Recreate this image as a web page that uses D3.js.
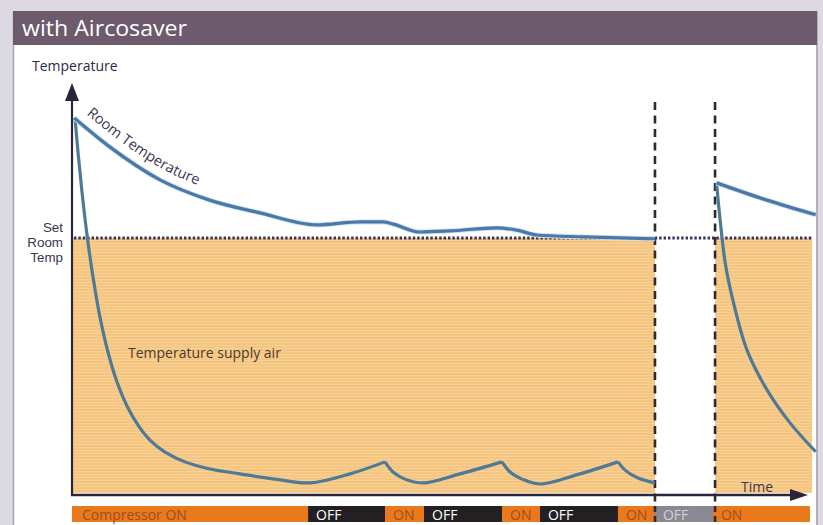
<!DOCTYPE html>
<html><head><meta charset="utf-8">
<script src="https://cdn.jsdelivr.net/npm/d3@7"></script>
<style>body{margin:0;background:#dcd9e2;} svg{display:block;font-family:"Open Sans",sans-serif;}</style>
</head><body><svg id="c" width="823" height="525"></svg>
<script>
// ---- data (time units 0-100, relative temperature 0-100) ----
const title = "with Aircosaver";
const yLabel = "Temperature";
const xLabel = "Time";
const setLabel = ["Set", "Room", "Temp"];
const setTemp = 68;
const gapStart = 78.78, gapEnd = 86.9;
const roomBefore = [[0.3,100],[5.1,92.3],[11.9,83.5],[18.6,78.1],[25.4,74.7],[33.1,71.5],[38.9,72.3],[42.0,72.3],[43.4,71.7],[47.0,69.6],[51.1,69.9],[57.4,70.7],[60.1,70.1],[62.8,68.8],[69.1,68.3],[78.8,67.8]];
const roomAfter = [[87.1,82.7],[93.9,78.1],[100.5,74.2]];
const supplyCycle1 = [[0.41,100],[0.81,90.9],[1.35,80.3],[2.03,68.8],[2.84,57.6],[3.78,46.9],[4.86,37.6],[6.08,29.6],[7.43,23.2],[8.92,18.1],[10.54,14.1],[12.57,10.9],[15.27,8.3],[18.65,6.4],[22.7,5.1],[27.43,3.7],[32.16,2.7],[37.57,5.1],[42.3,8.3]];
const supplyCycle2 = [[42.3,8.3],[43.38,5.6],[45.0,3.7],[47.43,2.7],[52.43,5.1],[58.11,8.3]];
const supplyCycle3 = [[58.11,8.3],[59.19,5.6],[60.81,3.7],[63.24,2.4],[68.65,5.1],[73.78,8.3]];
const supplyCycle4 = [[73.78,8.3],[74.86,5.9],[76.49,4.0],[78.78,2.7]];
const supplyAfter = [[87.1,82.7],[87.6,72.5],[88.3,61.0],[89.3,51.5],[91.22,38.1],[93.92,27.5],[97.03,18.7],[100.5,11.0]];
const compStates = ["ON","OFF","ON","OFF","ON","OFF","ON","IDLE","ON"];
const compLabels = ["Compressor ON","OFF","ON","OFF","ON","OFF","ON","OFF","ON"];
const compStarts = [0,31.9,42.3,47.57,58.11,63.24,73.78,78.78,86.62];
const compEnds   = [31.9,42.3,47.57,58.11,63.24,73.78,78.78,86.62,99.73];

// ---- drawing ----
const svg = d3.select("#c");
const x = d3.scaleLinear([0,100],[72,812]);
const y = d3.scaleLinear([0,100],[493,118]);

const defs = svg.append("defs");
const pat = defs.append("pattern").attr("id","stripe").attr("patternUnits","userSpaceOnUse").attr("width",4).attr("height",3);
pat.append("rect").attr("width",4).attr("height",3).attr("fill","#f5c47f");
pat.append("rect").attr("y",0).attr("width",4).attr("height",1).attr("fill","#f8d197");
pat.append("rect").attr("x",0).attr("width",1).attr("height",3).attr("fill","#f7cb8c").attr("opacity",0.6);

// frame
svg.append("rect").attr("x",0).attr("y",0).attr("width",823).attr("height",525).attr("fill","#dcd9e2");
svg.append("rect").attr("x",13).attr("y",44).attr("width",804).attr("height",481).attr("fill","#ffffff");
svg.append("line").attr("x1",13.5).attr("x2",13.5).attr("y1",11).attr("y2",525).attr("stroke","#a9a5b2").attr("stroke-width",1.5);
svg.append("line").attr("x1",817).attr("x2",817).attr("y1",11).attr("y2",525).attr("stroke","#b3afbb").attr("stroke-width",2);
svg.append("rect").attr("x",13).attr("y",11).attr("width",804).attr("height",34).attr("fill","#6d5a6d");
svg.append("text").attr("x",22).attr("y",36).attr("fill","#ffffff").attr("font-size",21.5)
  .attr("textLength",165).attr("lengthAdjust","spacingAndGlyphs").text(title);

// orange fill areas
[[0,gapStart],[gapEnd,100]].forEach(([a,b])=>{
  svg.append("rect").attr("x",x(a)).attr("y",y(setTemp)).attr("width",x(b)-x(a)).attr("height",y(0)-y(setTemp)).attr("fill","url(#stripe)");
});

// set temp dotted line
svg.append("line").attr("x1",x(0)+2).attr("x2",x(100)).attr("y1",y(setTemp)).attr("y2",y(setTemp))
  .attr("stroke","#34325e").attr("stroke-width",3).attr("stroke-dasharray","2.4,2");

// dashed verticals
[gapStart,gapEnd].forEach(t=>{
  svg.append("line").attr("x1",x(t)).attr("x2",x(t)).attr("y1",102).attr("y2",522)
    .attr("stroke","#2b2a2e").attr("stroke-width",2.6).attr("stroke-dasharray","8,5.5");
});

// curves
const line = d3.line().x(d=>x(d[0])).y(d=>y(d[1])).curve(d3.curveCatmullRom.alpha(0.5));
const roomLine = d3.line().x(d=>x(d[0])).y(d=>y(d[1])).curve(d3.curveMonotoneX);
[supplyCycle1,supplyCycle2,supplyCycle3,supplyCycle4,supplyAfter].forEach(s=>{
  svg.append("path").attr("d",line(s)).attr("fill","none").attr("stroke","#4e7a96").attr("stroke-width",3.2).attr("stroke-linejoin","miter");
});
[roomBefore,roomAfter].forEach(s=>{
  svg.append("path").attr("d",roomLine(s)).attr("fill","none").attr("stroke","#cfe0f0").attr("stroke-width",5);
  svg.append("path").attr("d",roomLine(s)).attr("fill","none").attr("stroke","#4a78a8").attr("stroke-width",3.2);
});

// text along room curve
const offsetLine = d3.line().x(d=>x(d[0])+6).y(d=>y(d[1])-9).curve(d3.curveMonotoneX);
defs.append("path").attr("id","roomPath").attr("d",offsetLine(roomBefore.slice(0,8)));
svg.append("text").attr("font-size",14.5).attr("fill","#3a3654")
  .append("textPath").attr("href","#roomPath").attr("startOffset",8).text("Room Temperature");

// axes
svg.append("line").attr("x1",72).attr("x2",72).attr("y1",96).attr("y2",496).attr("stroke","#2a2538").attr("stroke-width",2.2);
svg.append("path").attr("d","M72,83 L79,101 L65,101 Z").attr("fill","#2a2538");
svg.append("line").attr("x1",71).attr("x2",795).attr("y1",495).attr("y2",495).attr("stroke","#2a2538").attr("stroke-width",2.5);
svg.append("path").attr("d","M808,495 L790,489 L790,501 Z").attr("fill","#2a2538");

// labels
svg.append("text").attr("x",32).attr("y",71).attr("font-size",14).attr("fill","#2b2a40").text(yLabel);
svg.append("text").attr("x",741).attr("y",492).attr("font-size",14).attr("fill","#3a3654").text(xLabel);
setLabel.forEach((s,i)=>{
  svg.append("text").attr("x",63).attr("y",232+i*15).attr("text-anchor","end")
    .attr("font-family","'Liberation Sans',sans-serif").attr("font-size",13.4).attr("fill","#3a3650").text(s);
});
svg.append("text").attr("x",128).attr("y",358).attr("font-size",14).attr("fill","#4a3a2c").text("Temperature supply air");

// compressor bar
const fills = {ON:"#e9791c", OFF:"#231f22", IDLE:"#8b8894"};
const tcol = {ON:"#9c4f1c", OFF:"#ffffff", IDLE:"#d4d0d8"};
compStates.forEach((st,i)=>{
  svg.append("rect").attr("x",x(compStarts[i])).attr("y",506).attr("width",x(compEnds[i])-x(compStarts[i])).attr("height",16).attr("fill",fills[st]);
});
compStates.forEach((st,i)=>{
  svg.append("text").attr("x",x(compStarts[i])+(i===0?10:8)).attr("y",519.5).attr("font-size",14).attr("fill",tcol[st]).text(compLabels[i]);
});
[gapStart,gapEnd].forEach(t=>{
  svg.append("line").attr("x1",x(t)).attr("x2",x(t)).attr("y1",506).attr("y2",522)
    .attr("stroke","#2b2a2e").attr("stroke-width",2.6).attr("stroke-dasharray","6,4");
});
</script></body></html>
